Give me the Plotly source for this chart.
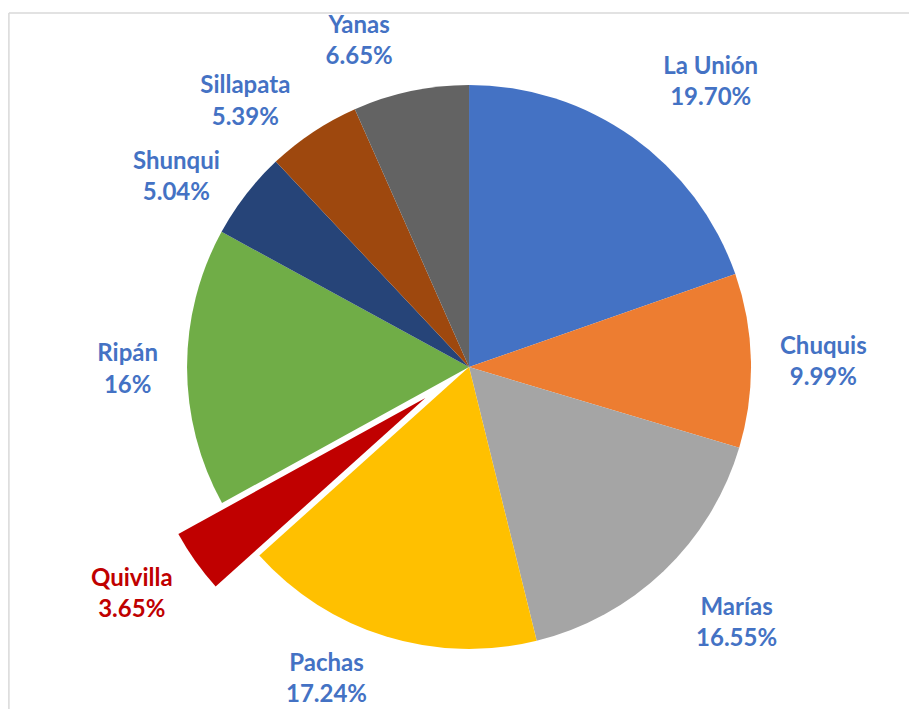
import plotly.graph_objects as go

labels = ["La Unión", "Chuquis", "Marías", "Pachas", "Quivilla", "Ripán", "Shunqui", "Sillapata", "Yanas"]
values = [19.70, 9.99, 16.55, 17.24, 3.65, 16.00, 5.04, 5.39, 6.65]
pct_text = ["19.70%", "9.99%", "16.55%", "17.24%", "3.65%", "16%", "5.04%", "5.39%", "6.65%"]
colors = ["#4472C4", "#ED7D31", "#A5A5A5", "#FFC000", "#C00000", "#70AD47", "#264478", "#9E480E", "#636363"]
highlight = "Quivilla"

BLUE = "#4472C4"
RED = "#C00000"
FONT = "Lato"
FSIZE = 24

pulls = [0.19 if l == highlight else 0 for l in labels]

# blank spacer lines that push a few labels a little further from the pie
pad_before = {"Marías", "Quivilla"}
pad_after = {"La Unión"}


def label_html(lab, pct, color):
    body = (f"<span style='color:{color}'><b>{lab}</b></span><br>"
            f"<span style='color:{color}'><b>{pct}</b></span>")
    if lab in pad_before:
        body = "&nbsp;<br>" + body
    if lab in pad_after:
        body = body + "<br>&nbsp;"
    return body


# labels for the regular slices (drawn by a transparent, slightly larger pie)
outer_tpl = ["" if l == highlight else label_html(l, p, BLUE) for l, p in zip(labels, pct_text)]
# label for the exploded slice (drawn by the visible pie itself)
inner_tpl = [label_html(l, p, RED) if l == highlight else "" for l, p in zip(labels, pct_text)]

fig = go.Figure()

fig.add_trace(go.Pie(
    labels=labels, values=values,
    texttemplate=outer_tpl,
    textposition="outside",
    outsidetextfont=dict(family=FONT, size=FSIZE, color="white"),
    marker=dict(colors=["rgba(255,255,255,0)"] * len(labels), line=dict(width=0)),
    sort=False, direction="clockwise", rotation=0,
    showlegend=False, automargin=False, hoverinfo="skip",
    domain=dict(x=[0.1831, 0.8403], y=[0.0657, 0.9101]),
))

fig.add_trace(go.Pie(
    labels=labels, values=values, text=pct_text,
    texttemplate=inner_tpl,
    textposition="outside",
    outsidetextfont=dict(family=FONT, size=FSIZE, color=RED),
    marker=dict(colors=colors, line=dict(width=0)),
    pull=pulls,
    sort=False, direction="clockwise", rotation=0,
    showlegend=False, automargin=False,
    hoverinfo="label+text",
    domain=dict(x=[0.1392, 0.8842], y=[0.0092, 0.9666]),
))

fig.update_layout(
    width=901, height=701,
    margin=dict(l=0, r=0, t=0, b=0, autoexpand=False),
    paper_bgcolor="white",
    shapes=[
        dict(type="line", xref="paper", yref="paper", x0=0.001, x1=1.0, y0=0.9929, y1=0.9929,
             line=dict(color="#D9D9D9", width=1.5)),
        dict(type="line", xref="paper", yref="paper", x0=0.001, x1=0.001, y0=0.0, y1=0.9929,
             line=dict(color="#D9D9D9", width=1.5)),
    ],
)

fig.write_html("out.html")
